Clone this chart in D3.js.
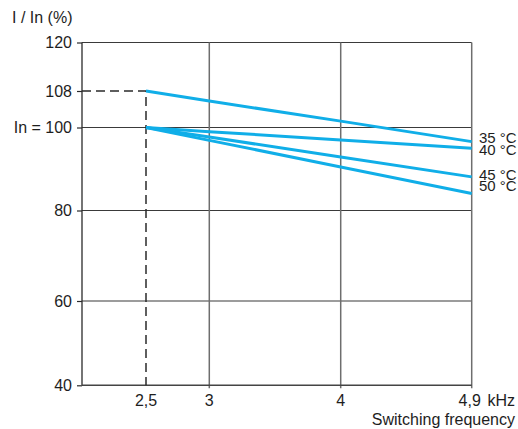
<!DOCTYPE html>
<html>
<head>
<meta charset="utf-8">
<script src="https://cdn.jsdelivr.net/npm/d3@7"></script>
<style>
  html, body { margin: 0; padding: 0; background: #fff; }
  svg { display: block; font-family: "Liberation Sans", Arial, sans-serif; }
</style>
</head>
<body>
<svg id="chart" width="518" height="429"></svg>
<script>
// ---- data ----
const freqs = [2.5, 3, 4, 4.9];             // kHz
const freqLabels = ["2,5", "3", "4", "4,9"];
const yTicks = [40, 60, 80, 100, 108, 120];
const yTickLabels = ["40", "60", "80", "In = 100", "108", "120"];
const seriesNames = ["35 °C", "40 °C", "45 °C", "50 °C"];
const s35 = [108, 105.8, 101.4, 96.6];
const s40 = [100, 99.0, 97.0, 95.0];
const s45 = [100, 97.7, 92.9, 88.1];
const s50 = [100, 96.9, 90.5, 84.1];
const series = [s35, s40, s45, s50];
const gridY = [60, 80, 100, 120];
const gridX = [3, 4, 4.9];

// ---- layout ----
const svg = d3.select("#chart");
const x = d3.scaleLinear().domain([2, 2.5, 3, 4, 4.9]).range([82, 146, 209.3, 340.7, 471.7]);
const y = d3.scaleLinear().domain([40, 60, 80, 100, 108, 120]).range([385.3, 301, 210.5, 127.5, 91, 42.5]);
const textColor = "#1e1e1e";
const lineColor = "#10aee8";

// horizontal grid
svg.append("g").selectAll("line").data(gridY).join("line")
  .attr("x1", x(2)).attr("x2", x(4.9))
  .attr("y1", d => y(d)).attr("y2", d => y(d))
  .attr("stroke", "#3a3a3a").attr("stroke-width", 1.2);

// vertical grid
svg.append("g").selectAll("line").data(gridX).join("line")
  .attr("x1", d => x(d)).attr("x2", d => x(d))
  .attr("y1", y(120)).attr("y2", y(40) + 3)
  .attr("stroke", "#6e6e6e").attr("stroke-width", 1.5);

// y axis
const yAxis = d3.axisLeft(y).tickValues(yTicks)
  .tickFormat((d, i) => yTickLabels[i]).tickSize(5).tickPadding(5);
const gy = svg.append("g").attr("transform", `translate(${x(2)},0)`).call(yAxis);
gy.select(".domain").attr("stroke", "#2a2a2a").attr("stroke-width", 1.3)
  .attr("d", `M0,${y(40)}V${y(120)}`);
gy.selectAll(".tick line").attr("stroke", "#2a2a2a").attr("stroke-width", 1.2);
gy.selectAll(".tick text").attr("fill", textColor).style("font-size", "16px")
  .style("font-family", "'Liberation Sans', Arial, sans-serif");

// x axis line
svg.append("line")
  .attr("x1", x(2)).attr("x2", x(4.9)).attr("y1", y(40)).attr("y2", y(40))
  .attr("stroke", "#444").attr("stroke-width", 1.5);

// x labels
svg.append("g").selectAll("text").data(freqs).join("text")
  .attr("x", d => x(d) - (d === 4.9 ? 2 : 0)).attr("y", y(40) + 21)
  .attr("text-anchor", "middle").attr("fill", textColor).style("font-size", "16px")
  .text((d, i) => freqLabels[i]);
svg.append("text").attr("x", 515).attr("y", y(40) + 21)
  .attr("text-anchor", "end").attr("fill", textColor).style("font-size", "16px").text("kHz");
svg.append("text").attr("x", 515).attr("y", 425)
  .attr("text-anchor", "end").attr("fill", textColor).style("font-size", "16px").text("Switching frequency");
svg.append("text").attr("x", 12).attr("y", 22.5)
  .attr("fill", textColor).style("font-size", "16px").text("I / In (%)");

// dashed reference lines
svg.append("path")
  .attr("d", `M${x(2)},${y(108)}H${x(2.5)}V${y(40)}`)
  .attr("fill", "none").attr("stroke", "#2a2a2a").attr("stroke-width", 1.5)
  .attr("stroke-dasharray", "9,5");

// series lines
const line = d3.line().x((d, i) => x(freqs[i])).y(d => y(d));
svg.append("g").selectAll("path").data(series).join("path")
  .attr("d", d => line(d))
  .attr("fill", "none").attr("stroke", lineColor).attr("stroke-width", 3)
  .attr("stroke-linecap", "butt");

// series labels
const labelBaselines = [143.3, 154.5, 180, 191];
svg.append("g").selectAll("text").data(seriesNames).join("text")
  .attr("x", 479).attr("y", (d, i) => labelBaselines[i])
  .attr("fill", textColor).style("font-size", "15px")
  .text(d => d);
</script>
</body>
</html>
